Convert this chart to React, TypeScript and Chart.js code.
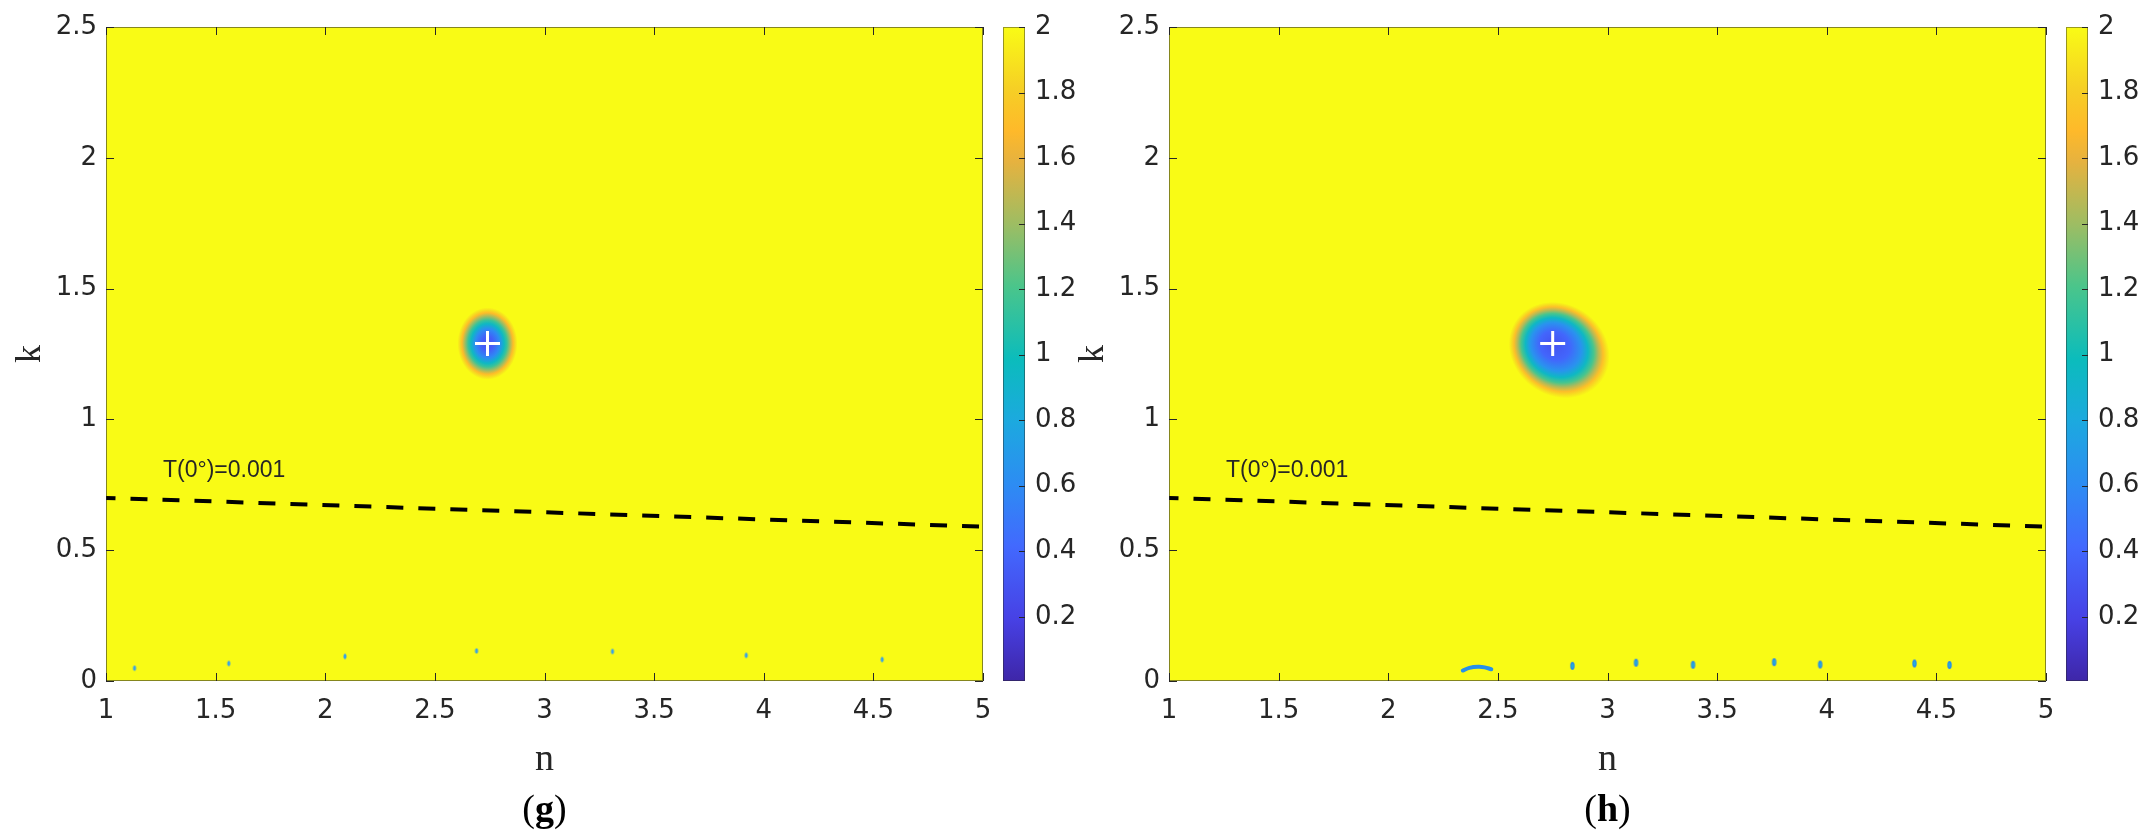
import React, { useEffect, useRef } from 'react';
import { Chart, registerables } from 'chart.js';

Chart.register(...registerables);

// ---------- data ----------
const nTicks = [1, 1.5, 2, 2.5, 3, 3.5, 4, 4.5, 5];
const kTicks = [0, 0.5, 1, 1.5, 2, 2.5];
const cbTicks = [0.2, 0.4, 0.6, 0.8, 1, 1.2, 1.4, 1.6, 1.8, 2];
const cbMin = 0.004;
const cbMax = 2;

// T(0°)=0.001 contour
const contourN = [1, 3, 5];
const contourK = [0.7, 0.645, 0.59];
const contourLabel = 'T(0°)=0.001';
const contourLabelN = [1.26];
const contourLabelK = [0.778];

// panel (g)
const gMinN = [2.74];
const gMinK = [1.29];
const gSpeckN = [1.13, 1.56, 2.09, 2.69, 3.31, 3.92, 4.54];
const gSpeckK = [0.049, 0.067, 0.094, 0.115, 0.113, 0.098, 0.082];

// panel (h)
const hMinN = [2.75];
const hMinK = [1.29];
const hSpeckN = [2.84, 3.13, 3.39, 3.76, 3.97, 4.4, 4.56];
const hSpeckK = [0.058, 0.07, 0.062, 0.072, 0.063, 0.067, 0.061];
const hArcN = [2.34, 2.37, 2.41, 2.44, 2.47];
const hArcK = [0.04, 0.05, 0.054, 0.052, 0.045];

// ---------- colormap (parula) ----------
const PARULA: number[][] = [
  [0, 62, 38, 168],
  [0.095, 71, 65, 229],
  [0.206, 66, 105, 254],
  [0.3, 45, 140, 243],
  [0.397, 28, 169, 223],
  [0.492, 11, 188, 188],
  [0.603, 74, 197, 139],
  [0.698, 157, 189, 99],
  [0.794, 230, 178, 63],
  [0.841, 254, 185, 42],
  [0.905, 246, 207, 37],
  [1, 249, 251, 21],
];

function parula(t: number): string {
  t = Math.max(0, Math.min(1, t));
  for (let i = 1; i < PARULA.length; i++) {
    const a = PARULA[i - 1];
    const b = PARULA[i];
    if (t <= b[0]) {
      const f = (t - a[0]) / (b[0] - a[0]);
      const r = Math.round(a[1] + (b[1] - a[1]) * f);
      const g = Math.round(a[2] + (b[2] - a[2]) * f);
      const bl = Math.round(a[3] + (b[3] - a[3]) * f);
      return `rgb(${r},${g},${bl})`;
    }
  }
  return 'rgb(249,251,21)';
}
const colorOf = (v: number) => parula((v - cbMin) / (cbMax - cbMin));

const TICK_FONT = { family: "'DejaVu Sans', 'Liberation Sans', Arial, sans-serif", size: 26 };
const SERIF = "'Liberation Serif', 'Times New Roman', serif";
const TEXT_COLOR = '#262626';

type Panel = {
  id: string;
  tag: string;
  minN: number[];
  minK: number[];
  speckN: number[];
  speckK: number[];
  arcN?: number[];
  arcK?: number[];
  spot: { n: number; k: number; rn: number; rk: number; angle: number; profile: number[][] };
  speck: { rx: number; ry: number; fill: string; inner?: string };
};

const PANEL_G: Panel = {
  id: 'g',
  tag: 'g',
  minN: gMinN,
  minK: gMinK,
  speckN: gSpeckN,
  speckK: gSpeckK,
  spot: {
    n: 2.74,
    k: 1.29,
    rn: 0.137,
    rk: 0.138,
    angle: 0,
    profile: [
      [0, 0.28], [0.2, 0.36], [0.4, 0.6], [0.55, 0.95], [0.65, 1.15],
      [0.75, 1.4], [0.85, 1.7], [0.93, 1.88], [1, 2],
    ],
  },
  speck: { rx: 1.6, ry: 2.8, fill: '#3aa2e6' },
};

const PANEL_H: Panel = {
  id: 'h',
  tag: 'h',
  minN: hMinN,
  minK: hMinK,
  speckN: hSpeckN,
  speckK: hSpeckK,
  arcN: hArcN,
  arcK: hArcK,
  spot: {
    n: 2.78,
    k: 1.265,
    rn: 0.24,
    rk: 0.175,
    angle: (35 * Math.PI) / 180,
    profile: [
      [0, 0.28], [0.3, 0.4], [0.5, 0.65], [0.62, 0.95], [0.72, 1.2],
      [0.8, 1.45], [0.88, 1.72], [0.95, 1.9], [1, 2],
    ],
  },
  speck: { rx: 2.2, ry: 4, fill: '#2a8aea', inner: '#22b0d8' },
};

function speckImage(s: Panel['speck']) {
  const c = document.createElement('canvas');
  c.width = Math.ceil(s.rx * 2) + 2;
  c.height = Math.ceil(s.ry * 2) + 2;
  const x = c.getContext('2d')!;
  x.fillStyle = s.fill;
  x.beginPath();
  x.ellipse(c.width / 2, c.height / 2, s.rx, s.ry, 0, 0, Math.PI * 2);
  x.fill();
  if (s.inner) {
    x.fillStyle = s.inner;
    x.beginPath();
    x.ellipse(c.width / 2, c.height / 2, s.rx * 0.5, s.ry * 0.55, 0, 0, Math.PI * 2);
    x.fill();
  }
  return c;
}

function makePlugin(p: Panel) {
  return {
    id: 'heat_' + p.id,
    beforeDatasetsDraw(chart: any) {
      const { ctx, chartArea: ca, scales } = chart;
      const xs = scales.x;
      const ys = scales.y;
      ctx.save();
      ctx.beginPath();
      ctx.rect(ca.left, ca.top, ca.right - ca.left, ca.bottom - ca.top);
      ctx.clip();
      ctx.fillStyle = colorOf(2);
      ctx.fillRect(ca.left, ca.top, ca.right - ca.left, ca.bottom - ca.top);

      // minimum region (smooth dip of the field)
      const sp = p.spot;
      const cx = xs.getPixelForValue(sp.n);
      const cy = ys.getPixelForValue(sp.k);
      const a = Math.abs(xs.getPixelForValue(sp.n + sp.rn) - cx);
      const b = Math.abs(ys.getPixelForValue(sp.k + sp.rk) - cy);
      const fx0 = xs.getPixelForValue(p.minN[0]) - cx;
      const fy0 = ys.getPixelForValue(p.minK[0]) - cy;
      const c = Math.cos(-sp.angle);
      const s = Math.sin(-sp.angle);
      const fx = (fx0 * c - fy0 * s) / a;
      const fy = (fx0 * s + fy0 * c) / b;
      ctx.save();
      ctx.translate(cx, cy);
      ctx.rotate(sp.angle);
      ctx.scale(a, b);
      const g = ctx.createRadialGradient(fx, fy, 0, 0, 0, 1);
      for (const [r, v] of sp.profile) g.addColorStop(r, colorOf(v));
      ctx.fillStyle = g;
      ctx.beginPath();
      ctx.arc(0, 0, 1, 0, Math.PI * 2);
      ctx.fill();
      ctx.restore();

      // contour label
      ctx.fillStyle = TEXT_COLOR;
      ctx.font = "23px 'Liberation Sans', Arial, sans-serif";
      ctx.textAlign = 'left';
      ctx.textBaseline = 'alphabetic';
      ctx.fillText(contourLabel, xs.getPixelForValue(contourLabelN[0]), ys.getPixelForValue(contourLabelK[0]));
      ctx.restore();
    },
    afterDraw(chart: any) {
      const { ctx, chartArea: ca, scales } = chart;
      const xs = scales.x;
      const ys = scales.y;
      const cb = scales.cb;
      ctx.save();
      // frame
      ctx.strokeStyle = 'rgba(38,38,38,0.55)';
      ctx.lineWidth = 1;
      ctx.strokeRect(ca.left + 0.5, ca.top + 0.5, ca.right - ca.left - 1, ca.bottom - ca.top - 1);
      // inward ticks
      ctx.strokeStyle = TEXT_COLOR;
      ctx.beginPath();
      for (const v of nTicks) {
        const px = Math.round(xs.getPixelForValue(v)) + 0.5;
        ctx.moveTo(px, ca.bottom);
        ctx.lineTo(px, ca.bottom - 8);
        ctx.moveTo(px, ca.top);
        ctx.lineTo(px, ca.top + 8);
      }
      for (const v of kTicks) {
        const py = Math.round(ys.getPixelForValue(v)) + 0.5;
        ctx.moveTo(ca.left, py);
        ctx.lineTo(ca.left + 8, py);
        ctx.moveTo(ca.right, py);
        ctx.lineTo(ca.right - 8, py);
      }
      ctx.stroke();

      // colorbar
      const x0 = cb.left + 20;
      const w = 22;
      const top = cb.getPixelForValue(cbMax);
      const bot = cb.getPixelForValue(cbMin);
      const lg = ctx.createLinearGradient(0, bot, 0, top);
      for (const st of PARULA) lg.addColorStop(st[0], `rgb(${st[1]},${st[2]},${st[3]})`);
      ctx.fillStyle = lg;
      ctx.fillRect(x0, top, w, bot - top);
      ctx.strokeStyle = 'rgba(38,38,38,0.45)';
      ctx.strokeRect(x0 + 0.5, top + 0.5, w - 1, bot - top - 1);
      ctx.strokeStyle = TEXT_COLOR;
      ctx.beginPath();
      for (const v of cbTicks) {
        const py = Math.round(cb.getPixelForValue(v)) + 0.5;
        ctx.moveTo(x0 + w, py);
        ctx.lineTo(x0 + w - 6, py);
      }
      ctx.stroke();

      // panel tag "(g)" with bold letter
      ctx.fillStyle = '#000';
      ctx.textBaseline = 'middle';
      ctx.textAlign = 'left';
      const fN = `38px ${SERIF}`;
      const fB = `bold 38px ${SERIF}`;
      ctx.font = fN;
      const wo = ctx.measureText('(').width;
      const wc = ctx.measureText(')').width;
      ctx.font = fB;
      const wt = ctx.measureText(p.tag).width;
      const total = wo + wt + wc;
      let tx = (ca.left + ca.right) / 2 - total / 2;
      const ty = ca.bottom + 130;
      ctx.font = fN;
      ctx.fillText('(', tx, ty);
      tx += wo;
      ctx.font = fB;
      ctx.fillText(p.tag, tx, ty);
      tx += wt;
      ctx.font = fN;
      ctx.fillText(')', tx, ty);
      ctx.restore();
    },
  };
}

function makeConfig(p: Panel): any {
  const datasets: any[] = [
    {
      type: 'line',
      data: contourN.map((n, i) => ({ x: n, y: contourK[i] })),
      borderColor: '#000',
      borderWidth: 4,
      borderDash: [17, 15],
      borderDashOffset: 7.5,
      pointRadius: 0,
      fill: false,
      tension: 0,
      xAxisID: 'x',
      yAxisID: 'y',
    },
    {
      type: 'scatter',
      data: p.speckN.map((n, i) => ({ x: n, y: p.speckK[i] })),
      pointStyle: speckImage(p.speck),
      pointRadius: 3,
      showLine: false,
      xAxisID: 'x',
      yAxisID: 'y',
    },
  ];
  if (p.arcN && p.arcK) {
    const ak = p.arcK;
    datasets.push({
      type: 'line',
      data: p.arcN.map((n, i) => ({ x: n, y: ak[i] })),
      borderColor: '#2790e8',
      borderWidth: 4,
      borderCapStyle: 'round',
      pointRadius: 0,
      tension: 0.4,
      fill: false,
      xAxisID: 'x',
      yAxisID: 'y',
    });
  }
  datasets.push({
    type: 'scatter',
    data: p.minN.map((n, i) => ({ x: n, y: p.minK[i] })),
    pointStyle: 'cross',
    pointRadius: 12.5,
    borderColor: '#ffffff',
    backgroundColor: '#ffffff',
    borderWidth: 3,
    showLine: false,
    xAxisID: 'x',
    yAxisID: 'y',
  });

  const noVPad = (s: any) => {
    s.paddingTop = 0;
    s.paddingBottom = 0;
  };

  return {
    type: 'scatter',
    data: { datasets },
    options: {
      responsive: false,
      maintainAspectRatio: false,
      animation: false,
      devicePixelRatio: 1,
      events: [],
      layout: { autoPadding: false, padding: { left: 0, right: 6, top: 27, bottom: 54 } },
      plugins: { legend: { display: false }, tooltip: { enabled: false }, title: { display: false } },
      scales: {
        x: {
          type: 'linear',
          position: 'bottom',
          min: 1,
          max: 5,
          afterBuildTicks: (s: any) => {
            s.ticks = nTicks.map((v) => ({ value: v }));
          },
          afterFit: (s: any) => {
            s.height = 104;
          },
          grid: { display: false, drawTicks: false },
          border: { display: false },
          ticks: {
            padding: 15,
            font: TICK_FONT,
            color: TEXT_COLOR,
            maxRotation: 0,
            autoSkip: false,
            callback: (v: number) => String(v),
          },
          title: {
            display: true,
            text: 'n',
            color: TEXT_COLOR,
            font: { family: SERIF, size: 38 },
            padding: { top: 0, bottom: 2 },
          },
        },
        y: {
          type: 'linear',
          position: 'left',
          min: 0,
          max: 2.5,
          afterBuildTicks: (s: any) => {
            s.ticks = kTicks.map((v) => ({ value: v }));
          },
          afterFit: (s: any) => {
            s.width = 106;
            noVPad(s);
          },
          grid: { display: false, drawTicks: false },
          border: { display: false },
          ticks: {
            padding: 9,
            font: TICK_FONT,
            color: TEXT_COLOR,
            autoSkip: false,
            callback: (v: number) => String(v),
          },
          title: {
            display: true,
            text: 'k',
            color: TEXT_COLOR,
            font: { family: SERIF, size: 36 },
            padding: { top: 9, bottom: 0 },
          },
        },
        cb: {
          type: 'linear',
          position: 'right',
          min: cbMin,
          max: cbMax,
          afterBuildTicks: (s: any) => {
            s.ticks = cbTicks.map((v) => ({ value: v }));
          },
          afterFit: (s: any) => {
            s.width = 100;
            noVPad(s);
          },
          grid: { display: false, drawTicks: false },
          border: { display: false },
          ticks: {
            padding: 52,
            font: TICK_FONT,
            color: TEXT_COLOR,
            autoSkip: false,
            callback: (v: number) => String(Math.round(v * 10) / 10),
          },
        },
      },
    },
    plugins: [makePlugin(p)],
  };
}

function PanelChart({ panel, left }: { panel: Panel; left: number }) {
  const ref = useRef<HTMLCanvasElement | null>(null);
  useEffect(() => {
    if (!ref.current) return;
    const chart = new Chart(ref.current, makeConfig(panel));
    return () => chart.destroy();
  }, [panel]);
  return (
    <canvas
      ref={ref}
      width={1089}
      height={839}
      style={{ position: 'absolute', left, top: 0, width: 1089, height: 839 }}
    />
  );
}

export default function App() {
  return (
    <div
      style={{
        position: 'fixed',
        left: 0,
        top: 0,
        width: 2152,
        height: 839,
        background: '#ffffff',
        overflow: 'hidden',
      }}
    >
      <PanelChart panel={PANEL_G} left={0} />
      <PanelChart panel={PANEL_H} left={1063} />
    </div>
  );
}
